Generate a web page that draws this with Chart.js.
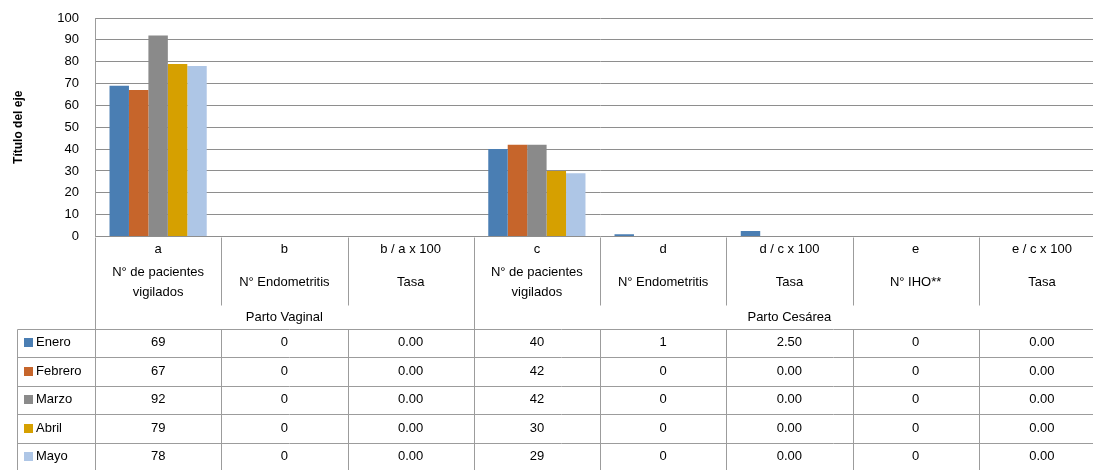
<!DOCTYPE html>
<html>
<head>
<meta charset="utf-8">
<script src="https://cdn.jsdelivr.net/npm/chart.js@4"></script>
<style>
  html, body { margin: 0; padding: 0; background: #fff; overflow: hidden; }
  #wrap { width: 1106px; height: 470px; }
</style>
</head>
<body>
<div id="wrap"><canvas id="chart" width="1106" height="470"></canvas></div>
<script>
const categories = ["a", "b", "b / a x 100", "c", "d", "d / c x 100", "e", "e / c x 100"];
const descriptions = [
  ["N° de pacientes", "vigilados"],
  ["N° Endometritis"],
  ["Tasa"],
  ["N° de pacientes", "vigilados"],
  ["N° Endometritis"],
  ["Tasa"],
  ["N° IHO**"],
  ["Tasa"],
];
const groupLabels = ["Parto Vaginal", "Parto Cesárea"];
const groupSpans = [3, 5];
const rateColumns = [2, 5, 7];

const months = ["Enero", "Febrero", "Marzo", "Abril", "Mayo"];
const enero = [69, 0, 0, 40, 1, 2.5, 0, 0];
const febrero = [67, 0, 0, 42, 0, 0, 0, 0];
const marzo = [92, 0, 0, 42, 0, 0, 0, 0];
const abril = [79, 0, 0, 30, 0, 0, 0, 0];
const mayo = [78, 0, 0, 29, 0, 0, 0, 0];
const seriesValues = [enero, febrero, marzo, abril, mayo];
const seriesColors = ["#4a7eb3", "#c6652b", "#8a8a8a", "#d6a000", "#aec6e6"];

const yMin = 0;
const yMax = 100;
const yStep = 10;

const lineColor = "#9c9c9c";
const textFont = "13px 'Liberation Sans', Arial, sans-serif";

function formatCell(value, column) {
  return rateColumns.includes(column) ? value.toFixed(2) : String(value);
}

const dataTablePlugin = {
  id: "dataTable",
  afterDraw(chart) {
    const { ctx, chartArea } = chart;
    const x = chart.scales.x;
    const colWidth = (chartArea.right - chartArea.left) / categories.length;
    const top = chartArea.bottom;
    const headerSplit = top + 68;
    const headerBottom = top + 92;
    const rowHeight = 28.5;
    const legendLeft = 17;
    const right = chartArea.right;

    const edge = (i) => x.getPixelForValue(i) - colWidth / 2;

    ctx.save();
    ctx.strokeStyle = lineColor;
    ctx.lineWidth = 1;

    const line = (x1, y1, x2, y2) => {
      ctx.beginPath();
      ctx.moveTo(Math.round(x1) + 0.5, Math.round(y1) + 0.5);
      ctx.lineTo(Math.round(x2) + 0.5, Math.round(y2) + 0.5);
      ctx.stroke();
    };

    // header column lines
    let groupStart = 0;
    const groupEdges = [0];
    groupSpans.forEach((span) => {
      groupStart += span;
      groupEdges.push(groupStart);
    });
    for (let i = 0; i < categories.length; i++) {
      const bottom = groupEdges.includes(i) ? chart.height : headerSplit;
      line(edge(i), top, edge(i), bottom);
    }

    // data rows
    line(legendLeft, headerBottom, right, headerBottom);
    for (let r = 1; r <= months.length; r++) {
      line(legendLeft, headerBottom + r * rowHeight, right, headerBottom + r * rowHeight);
    }
    line(legendLeft, headerBottom, legendLeft, chart.height);
    for (let i = 1; i < categories.length; i++) {
      line(edge(i), headerBottom, edge(i), chart.height);
    }

    ctx.fillStyle = "#000";
    ctx.font = textFont;
    ctx.textAlign = "center";
    ctx.textBaseline = "middle";

    categories.forEach((label, i) => {
      const cx = x.getPixelForValue(i);
      ctx.fillText(label, cx, top + 12.5);
      const desc = descriptions[i];
      if (desc.length === 2) {
        ctx.fillText(desc[0], cx, top + 36);
        ctx.fillText(desc[1], cx, top + 56);
      } else {
        ctx.fillText(desc[0], cx, top + 46);
      }
    });

    groupLabels.forEach((label, g) => {
      const cx = (edge(groupEdges[g]) + edge(groupEdges[g]) + groupSpans[g] * colWidth) / 2;
      ctx.fillText(label, cx, top + 80.5);
    });

    months.forEach((month, r) => {
      const cy = headerBottom + r * rowHeight + rowHeight / 2;
      seriesValues[r].forEach((value, i) => {
        ctx.fillText(formatCell(value, i), x.getPixelForValue(i), cy);
      });
      ctx.fillStyle = seriesColors[r];
      ctx.fillRect(24, Math.round(cy - 4.5), 9, 9);
      ctx.fillStyle = "#000";
      ctx.textAlign = "left";
      ctx.fillText(month, 36, cy);
      ctx.textAlign = "center";
    });

    ctx.restore();
  },
};

new Chart(document.getElementById("chart"), {
  type: "bar",
  data: {
    labels: categories,
    datasets: months.map((month, i) => ({
      label: month,
      data: seriesValues[i],
      backgroundColor: seriesColors[i],
      borderWidth: 0,
      barPercentage: 1,
      categoryPercentage: 0.77,
    })),
  },
  options: {
    responsive: false,
    animation: false,
    layout: {
      padding: { top: 18, bottom: 233.5, left: 0, right: 1 },
    },
    plugins: {
      legend: { display: false },
      tooltip: { enabled: false },
    },
    scales: {
      x: {
        display: false,
      },
      y: {
        min: yMin,
        max: yMax,
        afterFit(scale) {
          scale.width = 95;
          scale.paddingTop = 0;
          scale.paddingBottom = 0;
        },
        ticks: {
          stepSize: yStep,
          padding: 16,
          color: "#000",
          font: { family: "'Liberation Sans', Arial, sans-serif", size: 13 },
        },
        grid: {
          color: "#8e8e8e",
          drawTicks: false,
        },
        border: {
          display: true,
          color: lineColor,
        },
        title: {
          display: true,
          text: "Título del eje",
          color: "#000",
          padding: { top: 11, bottom: 0 },
          font: { family: "'Liberation Sans', Arial, sans-serif", size: 12, weight: "bold" },
        },
      },
    },
  },
  plugins: [dataTablePlugin],
});
</script>
</body>
</html>
